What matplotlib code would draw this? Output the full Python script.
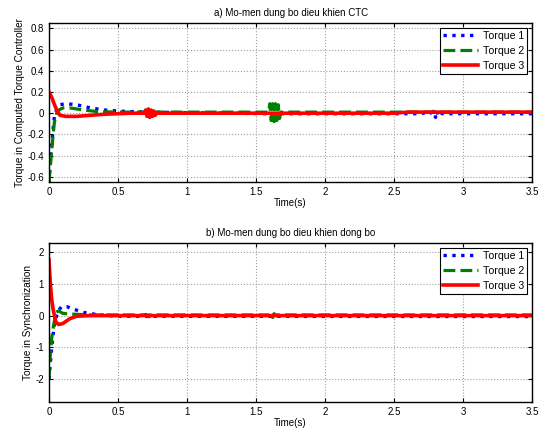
import numpy as np
import matplotlib
matplotlib.use('Agg')
import matplotlib.pyplot as plt

plt.rcParams['font.family'] = ['Liberation Sans', 'DejaVu Sans']

# ---- panel a) CTC torques ----
t1a = [0, 0.01, 0.02, 0.03, 0.04, 0.06, 0.08, 0.12, 0.2, 0.3, 0.4, 0.5, 0.7, 1.0, 1.6,
       2.7, 2.76, 2.78, 2.79, 2.80, 2.81, 2.82, 2.83, 2.85, 3.5]
y1a = [-0.65, -0.45, -0.3, -0.15, -0.02, 0.05, 0.08, 0.09, 0.08, 0.05, 0.03, 0.02, 0.01, 0.005, -0.005,
       -0.005, 0.02, -0.03, 0.03, -0.04, 0.02, -0.02, 0.01, -0.005, -0.005]

t2a = [0, 0.01, 0.02, 0.03, 0.04, 0.06, 0.1, 0.15, 0.25, 0.35, 0.5, 1.0, 1.59,
       1.60, 1.61, 1.62, 1.63, 1.64, 1.65, 1.66, 1.67, 1.68, 2.5, 3.5]
y2a = [-0.65, -0.5, -0.35, -0.2, -0.08, 0.02, 0.05, 0.05, 0.03, 0.015, 0.01, 0.01, 0.01,
       0.09, -0.07, 0.09, -0.08, 0.09, -0.07, 0.08, -0.05, 0.01, 0.01, 0.01]

t3a = [0, 0.02, 0.04, 0.06, 0.08, 0.12, 0.2, 0.3, 0.4, 0.5, 0.6, 0.69,
       0.70, 0.71, 0.72, 0.73, 0.74, 0.75, 0.76, 0.77, 0.78, 2.5, 2.6, 3.5]
y3a = [0.2, 0.15, 0.08, 0.02, -0.02, -0.03, -0.03, -0.02, -0.01, -0.005, 0.0, 0.0,
       0.03, -0.03, 0.04, -0.04, 0.03, -0.03, 0.02, -0.02, 0.0, 0.0, 0.01, 0.01]

# ---- panel b) synchronization torques ----
t1b = [0, 0.01, 0.02, 0.03, 0.04, 0.06, 0.09, 0.13, 0.18, 0.25, 0.35, 0.5, 3.5]
y1b = [-2.0, -1.5, -1.0, -0.6, -0.3, 0.1, 0.28, 0.28, 0.2, 0.1, 0.03, -0.02, -0.03]

t2b = [0, 0.01, 0.02, 0.03, 0.05, 0.07, 0.1, 0.15, 0.3, 1.6, 1.61, 1.62, 1.63, 1.64, 3.5]
y2b = [-2.0, -1.2, -0.7, -0.4, 0.1, 0.15, 0.07, 0.05, 0.02, 0.02, 0.08, -0.06, 0.06, 0.02, 0.02]

t3b = [0, 0.01, 0.02, 0.03, 0.05, 0.07, 0.1, 0.15, 0.2, 0.3, 0.68, 0.7, 0.72, 0.74, 3.5]
y3b = [1.75, 1.0, 0.5, 0.2, -0.2, -0.28, -0.25, -0.1, -0.02, 0.0, 0.0, 0.03, -0.03, 0.0, 0.0]

xticks = [0, 0.5, 1, 1.5, 2, 2.5, 3, 3.5]
xticklabels = ['0', '0.5', '1', '1.5', '2', '2.5', '3', '3.5']
yticks_a = [-0.6, -0.4, -0.2, 0, 0.2, 0.4, 0.6, 0.8]
yticklabels_a = ['-0.6', '-0.4', '-0.2', '0', '0.2', '0.4', '0.6', '0.8']
yticks_b = [-2, -1, 0, 1, 2]
yticklabels_b = ['-2', '-1', '0', '1', '2']
labels = ['Torque 1', 'Torque 2', 'Torque 3']

fig = plt.figure(figsize=(5.46, 4.34), dpi=100)
ax1 = fig.add_axes([0.0897, 0.5806, 0.885, 0.366])
ax2 = fig.add_axes([0.0897, 0.0737, 0.885, 0.366])


def style(ax, title, ylabel, yticks, yticklabels, ylim):
    ax.set_xlim(0, 3.5)
    ax.set_ylim(*ylim)
    ax.set_xticks(xticks)
    ax.set_xticklabels(xticklabels)
    ax.set_yticks(yticks)
    ax.set_yticklabels(yticklabels)
    ax.grid(True, color='#a0a0a0', linestyle=':', linewidth=0.8)
    ax.tick_params(direction='in', top=True, right=True, labelsize=7, length=3, width=0.8)
    ax.set_title(title, fontsize=7, pad=5)
    ax.set_xlabel('Time(s)', fontsize=7, labelpad=1)
    ax.set_ylabel(ylabel, fontsize=7.2, labelpad=2)
    for s in ax.spines.values():
        s.set_linewidth(1.0)
    leg = ax.legend(loc='upper right', fontsize=7.6, fancybox=False, framealpha=1,
                    edgecolor='black', handlelength=3.3, borderpad=0.3, labelspacing=0.45,
                    handletextpad=0.5, borderaxespad=0.45)
    leg.get_frame().set_linewidth(0.8)


ax1.plot(t1a, y1a, color='blue', linestyle=':', linewidth=2.4, label=labels[0])
ax1.plot(t2a, y2a, color='#008000', linestyle='--', linewidth=2.3, label=labels[1])
ax1.plot(t3a, y3a, color='red', linestyle='-', linewidth=2.6, label=labels[2])
style(ax1, 'a) Mo-men dung bo dieu khien CTC', 'Torque in Computed Torque Controller',
      yticks_a, yticklabels_a, (-0.65, 0.85))

ax2.plot(t1b, y1b, color='blue', linestyle=':', linewidth=2.4, label=labels[0])
ax2.plot(t2b, y2b, color='#008000', linestyle='--', linewidth=2.3, label=labels[1])
ax2.plot(t3b, y3b, color='red', linestyle='-', linewidth=2.6, label=labels[2])
style(ax2, 'b) Mo-men dung bo dieu khien dong bo', 'Torque in Synchronization',
      yticks_b, yticklabels_b, (-2.72, 2.28))

fig.savefig('out.png', dpi=100)
